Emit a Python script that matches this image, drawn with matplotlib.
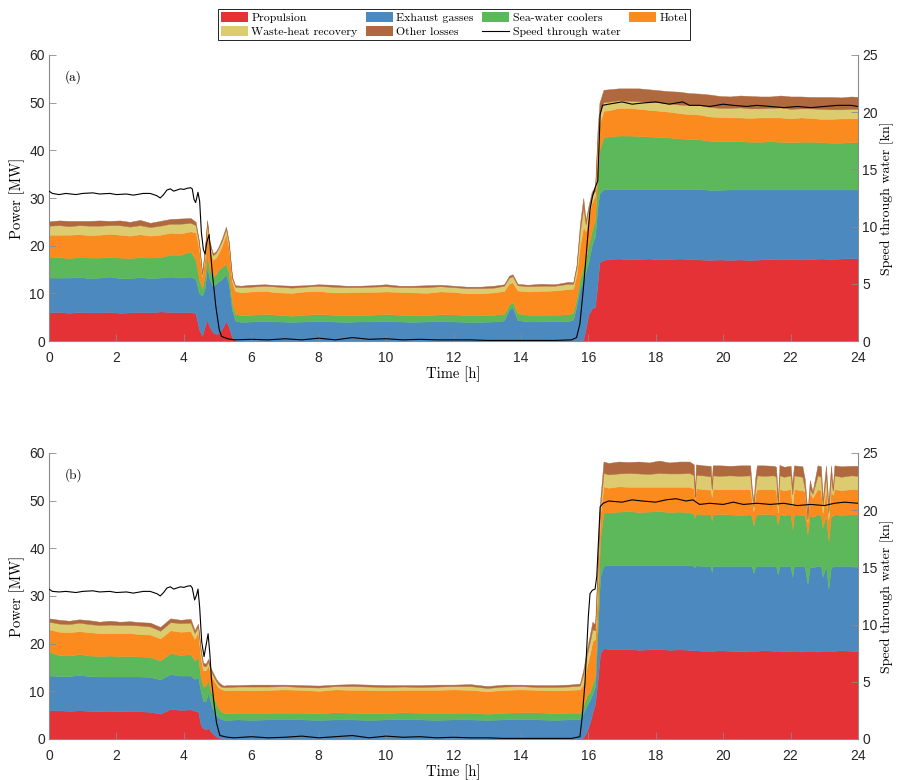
import numpy as np
import matplotlib
matplotlib.use('Agg')
import matplotlib.pyplot as plt
from matplotlib.patches import Patch
from matplotlib.lines import Line2D

# ---------------- labels / colours ----------------
series_labels = ['Propulsion', 'Exhaust gasses', 'Sea-water coolers', 'Hotel',
                 'Waste-heat recovery', 'Other losses']
speed_label = 'Speed through water'
colors = ['#E53236', '#4B89BF', '#5CB85B', '#FB8B1E', '#DCCB6F', '#B0693F']

# ---------------- panel (a) ----------------
t_a = [0, 0.3, 0.6, 0.9, 1.2, 1.5, 1.8, 2.1, 2.4, 2.7, 3.0, 3.3, 3.6, 3.9, 4.2,
       4.35, 4.45, 4.54, 4.62, 4.69, 4.76, 4.86, 4.95, 5.03, 5.13, 5.25, 5.33, 5.43, 5.52,
       5.7, 6.0, 6.4, 6.8, 7.2, 7.6, 8.0, 8.4, 8.8, 9.2, 9.6, 10.0, 10.4, 10.8, 11.2, 11.6,
       12.0, 12.4, 12.8, 13.2, 13.5, 13.65, 13.75, 13.9, 14.2, 14.6, 15.0, 15.4,
       15.55, 15.65, 15.75, 15.85, 15.92, 16.0, 16.1, 16.2, 16.27, 16.33, 16.45,
       16.6, 16.9, 17.2, 17.5, 17.8, 18.1, 18.4, 18.7, 19.0, 19.3, 19.6, 19.9, 20.2, 20.5,
       20.8, 21.1, 21.4, 21.7, 22.0, 22.3, 22.6, 22.9, 23.2, 23.5, 23.8, 24.0]

prop_a = [6.0, 6.1, 5.9, 6.1, 6.0, 6.0, 6.1, 5.9, 6.0, 6.1, 6.0, 6.2, 6.1, 6.0, 6.1,
          5.8, 2.5, 1.0, 3.0, 4.5, 3.0, 1.8, 1.5, 1.6, 2.5, 4.2, 3.0, 0.8, 0.2,
          0.1, 0.1, 0.1, 0.1, 0.1, 0.1, 0.1, 0.1, 0.1, 0.1, 0.1, 0.1, 0.1, 0.1, 0.1, 0.1,
          0.1, 0.1, 0.1, 0.1, 0.1, 0.1, 0.1, 0.1, 0.1, 0.1, 0.1, 0.1,
          0.1, 0.1, 0.1, 0.3, 2.5, 5.5, 6.8, 7.2, 12.0, 16.5, 17.0,
          17.2, 17.3, 17.1, 17.2, 17.3, 17.1, 17.2, 17.3, 17.2, 17.1, 17.0, 17.1, 17.0, 17.1,
          17.0, 17.1, 17.2, 17.1, 17.2, 17.1, 17.2, 17.3, 17.2, 17.3, 17.4, 17.3]
exh_a = [7.3, 7.2, 7.4, 7.3, 7.2, 7.3, 7.4, 7.3, 7.2, 7.3, 7.2, 7.1, 7.4, 7.3, 7.4,
         7.2, 7.5, 8.5, 8.0, 11.0, 10.0, 9.7, 10.5, 10.9, 10.5, 9.8, 9.0, 5.7, 4.1,
         3.9, 4.0, 4.1, 4.0, 3.9, 4.0, 4.1, 4.0, 3.9, 4.0, 4.0, 4.1, 4.0, 3.9, 4.0, 4.1,
         4.0, 3.9, 3.9, 4.0, 4.2, 6.5, 7.0, 4.3, 4.0, 4.0, 4.1, 4.1,
         4.4, 7.4, 10.9, 12.7, 12.0, 11.0, 13.2, 14.8, 16.0, 14.5, 14.8,
         14.7, 14.6, 14.8, 14.7, 14.6, 14.8, 14.7, 14.6, 14.7, 14.8, 14.7, 14.6, 14.8, 14.7,
         14.8, 14.7, 14.6, 14.7, 14.6, 14.7, 14.6, 14.5, 14.6, 14.5, 14.4, 14.5]
sea_a = [4.2, 4.3, 4.1, 4.2, 4.3, 4.2, 4.1, 4.3, 4.2, 4.2, 4.3, 4.3, 4.6, 4.8, 5.3,
         4.0, 3.0, 1.5, 2.5, 2.5, 2.0, 2.0, 2.0, 2.5, 2.5, 2.2, 2.5, 1.5, 1.4,
         1.4, 1.4, 1.5, 1.4, 1.3, 1.4, 1.5, 1.4, 1.4, 1.3, 1.4, 1.5, 1.4, 1.4, 1.3, 1.4,
         1.5, 1.4, 1.4, 1.4, 1.4, 1.0, 1.2, 1.4, 1.4, 1.4, 1.3, 1.4,
         1.5, 1.5, 2.0, 2.5, 2.5, 3.5, 3.0, 3.5, 7.0, 9.0, 11.0,
         11.0, 11.2, 11.2, 11.1, 11.0, 10.9, 10.8, 10.6, 10.5, 10.4, 10.3, 10.2, 10.1, 10.1,
         10.0, 10.0, 10.1, 10.0, 9.9, 10.0, 10.0, 9.9, 9.8, 9.8, 9.9, 9.9]
hotel_a = [4.8, 4.7, 4.9, 4.8, 4.7, 4.8, 4.9, 4.8, 4.7, 4.8, 4.6, 4.7, 4.6, 4.5, 4.2,
           5.8, 6.5, 2.5, 4.0, 5.5, 4.5, 3.5, 3.5, 3.5, 4.5, 6.3, 5.3, 4.5, 4.8,
           4.8, 4.9, 4.8, 4.7, 4.8, 4.9, 4.8, 4.7, 4.8, 4.9, 4.8, 4.7, 4.8, 4.8, 4.7, 4.8,
           4.7, 4.6, 4.6, 4.7, 4.8, 4.5, 4.0, 4.8, 4.9, 5.0, 5.1, 5.3,
           5.0, 5.0, 7.0, 8.5, 6.0, 6.0, 6.0, 5.0, 5.0, 5.5, 5.5,
           5.5, 5.8, 5.8, 5.7, 5.6, 5.5, 5.4, 5.3, 5.2, 5.2, 5.1, 5.1, 5.0, 5.0,
           5.0, 5.1, 5.0, 5.1, 5.0, 5.1, 5.0, 4.9, 5.0, 5.1, 5.0, 5.0]
whr_a = [1.9, 2.0, 1.8, 1.9, 2.0, 1.9, 1.8, 2.0, 1.9, 1.9, 1.8, 1.9, 1.9, 2.0, 1.8,
         1.5, 1.0, 0.5, 1.0, 1.3, 1.0, 1.0, 1.0, 1.0, 1.0, 1.0, 0.8, 0.7, 0.9,
         1.1, 1.0, 1.1, 1.2, 1.1, 1.0, 1.1, 1.2, 1.1, 1.0, 1.1, 1.1, 1.0, 1.1, 1.2, 1.1,
         1.0, 1.1, 1.1, 1.0, 1.1, 1.2, 1.3, 1.1, 1.1, 1.1, 1.0, 1.1,
         1.0, 1.5, 3.0, 4.0, 1.5, 1.5, 1.5, 1.0, 2.0, 2.0, 1.8,
         1.8, 1.6, 1.5, 1.6, 1.7, 1.8, 1.7, 1.8, 1.9, 2.0, 2.0, 1.9, 2.0, 2.1,
         2.0, 1.9, 2.0, 2.1, 2.0, 1.9, 2.0, 2.1, 2.0, 1.9, 2.0, 2.0]
other_a = [0.9, 1.0, 1.1, 0.9, 1.0, 1.1, 0.9, 1.0, 1.0, 1.1, 0.9, 1.0, 1.0, 1.1, 1.0,
           0.7, 0.5, 0.3, 0.5, 0.6, 0.5, 0.4, 0.3, 0.3, 0.5, 0.5, 0.4, 0.3, 0.3,
           0.3, 0.4, 0.3, 0.3, 0.4, 0.3, 0.3, 0.4, 0.3, 0.3, 0.3, 0.4, 0.3, 0.3, 0.4, 0.3,
           0.3, 0.3, 0.3, 0.4, 0.3, 0.4, 0.4, 0.3, 0.3, 0.4, 0.3, 0.4,
           0.3, 0.5, 1.5, 2.0, 0.8, 0.7, 0.8, 0.8, 2.0, 2.5, 2.6,
           2.6, 2.5, 2.6, 2.7, 2.6, 2.5, 2.6, 2.7, 2.5, 2.4, 2.6, 2.5, 2.4, 2.5,
           2.6, 2.5, 2.4, 2.5, 2.6, 2.5, 2.4, 2.5, 2.6, 2.5, 2.6, 2.5]

ts_a = [0.0, 0.1, 0.3, 0.5, 0.8, 1.0, 1.3, 1.5, 1.8, 2.0, 2.3, 2.5, 2.8, 3.0, 3.2, 3.3,
        3.4, 3.5, 3.6, 3.7, 3.9, 4.0, 4.1, 4.2, 4.25, 4.3, 4.35, 4.42, 4.47, 4.52, 4.58,
        4.63, 4.68, 4.75, 4.8, 4.85, 4.95, 5.05, 5.12, 5.3, 5.5, 6.0, 6.5, 7.0, 7.5, 8.0,
        8.5, 9.0, 9.5, 10.0, 10.5, 11.0, 11.5, 12.0, 12.5, 13.0, 13.5, 14.0, 14.5, 15.0,
        15.5, 15.65, 15.75, 15.85, 15.95, 16.05, 16.12, 16.2, 16.28, 16.35, 16.42, 16.6,
        17.0, 17.3, 17.6, 18.0, 18.4, 18.8, 19.0, 19.3, 19.6, 20.0, 20.3, 20.7, 21.0,
        21.4, 21.8, 22.2, 22.6, 23.0, 23.4, 23.8, 24.0]
speed_a = [13.1, 12.9, 12.8, 12.9, 12.8, 12.9, 12.95, 12.85, 12.9, 12.8, 12.85, 12.75,
           12.9, 12.9, 12.7, 12.5, 12.8, 13.2, 13.3, 13.1, 13.3, 13.25, 13.35, 13.4, 13.3,
           12.4, 12.1, 13.0, 12.2, 9.5, 8.0, 7.6, 8.6, 9.3, 7.5, 5.8, 3.0, 1.0, 0.4, 0.2,
           0.1, 0.15, 0.1, 0.2, 0.1, 0.25, 0.1, 0.3, 0.15, 0.2, 0.1, 0.15, 0.1, 0.1, 0.1,
           0.05, 0.05, 0.05, 0.05, 0.05, 0.1, 0.3, 1.5, 4.5, 8.0, 11.5, 12.6, 13.4, 14.0,
           19.8, 20.6, 20.7, 20.9, 20.7, 20.8, 20.9, 20.7, 20.9, 20.6, 20.6, 20.5, 20.7,
           20.6, 20.5, 20.6, 20.5, 20.4, 20.5, 20.4, 20.5, 20.6, 20.6, 20.5]

# ---------------- panel (b) ----------------
t_b = [0, 0.3, 0.6, 0.9, 1.2, 1.5, 1.8, 2.1, 2.4, 2.7, 3.0, 3.3, 3.6, 3.9, 4.2,
       4.32, 4.42, 4.5, 4.57, 4.65, 4.72, 4.8, 4.87, 4.95, 5.02, 5.1, 5.18,
       5.3, 5.6, 6.0, 6.5, 7.0, 7.5, 8.0, 8.5, 9.0, 9.5, 10.0, 10.5, 11.0, 11.5, 12.0,
       12.5, 13.0, 13.5, 14.0, 14.5, 15.0, 15.4, 15.75,
       15.85, 15.95, 16.05, 16.12, 16.2, 16.27, 16.35, 16.45,
       16.6, 16.9, 17.2, 17.5, 17.8, 18.1, 18.4, 18.7, 19.0, 19.13,
       19.16, 19.19, 19.4, 19.63, 19.66, 19.69, 19.9, 20.2, 20.5, 20.8,
       20.85, 20.9, 20.95, 21.0, 21.2, 21.5, 21.57, 21.62, 21.67, 21.8,
       22.0, 22.05, 22.1, 22.35, 22.42, 22.5, 22.57, 22.65, 22.8, 22.9,
       22.95, 23.05, 23.12, 23.2, 23.25, 23.3, 23.5, 23.8, 24.0]

prop_b = [6.0, 6.0, 5.9, 6.0, 5.9, 5.8, 5.9, 5.8, 5.9, 5.8, 5.7, 5.3, 6.3, 6.1, 6.2,
          5.9, 5.8, 3.0, 2.3, 2.0, 2.3, 1.6, 1.0, 0.6, 0.3, 0.2, 0.1,
          0.1, 0.1, 0.1, 0.1, 0.1, 0.1, 0.1, 0.1, 0.1, 0.1, 0.1, 0.1, 0.1, 0.1, 0.1,
          0.1, 0.1, 0.1, 0.1, 0.1, 0.1, 0.1, 0.1,
          0.3, 1.5, 3.5, 5.5, 7.5, 12.0, 18.0, 19.0,
          18.9, 18.8, 18.9, 18.7, 18.8, 18.9, 18.7, 18.8, 18.7, 18.6,
          18.6, 18.6, 18.5, 18.5, 18.5, 18.5, 18.6, 18.5, 18.4, 18.5,
          18.5, 18.5, 18.5, 18.5, 18.6, 18.5, 18.5, 18.5, 18.5, 18.4,
          18.5, 18.5, 18.5, 18.4, 18.5, 18.5, 18.5, 18.5, 18.4, 18.5,
          18.5, 18.5, 18.5, 18.5, 18.5, 18.5, 18.6, 18.5, 18.4]
exh_b = [7.3, 7.2, 7.3, 7.4, 7.3, 7.3, 7.2, 7.3, 7.2, 7.3, 7.3, 7.2, 7.3, 7.2, 7.1,
         6.7, 7.2, 7.0, 5.7, 6.0, 7.3, 5.9, 5.1, 4.6, 4.3, 4.0, 3.9,
         3.9, 4.0, 3.9, 4.0, 4.1, 4.0, 3.9, 4.0, 4.0, 3.9, 4.0, 4.1, 4.0, 3.9, 4.0,
         4.0, 3.9, 4.0, 4.1, 4.0, 3.9, 4.0, 4.0,
         5.2, 5.5, 4.7, 4.0, 3.5, 10.0, 16.0, 17.3,
         17.6, 17.7, 17.6, 17.8, 17.7, 17.6, 17.8, 17.7, 17.8, 17.7,
         17.3, 17.8, 17.8, 17.7, 16.5, 17.8, 17.7, 17.8, 17.9, 17.8,
         17.6, 16.3, 17.6, 17.8, 17.7, 17.8, 17.7, 16.0, 17.8, 17.9,
         17.8, 15.5, 17.8, 17.9, 17.6, 14.0, 17.6, 17.5, 17.9, 17.8,
         15.5, 17.8, 13.0, 17.8, 17.6, 17.8, 17.7, 17.8, 17.9]
sea_b = [5.0, 4.4, 4.3, 4.4, 4.3, 4.3, 4.4, 4.3, 4.3, 4.2, 4.2, 4.0, 4.4, 4.3, 4.5,
         3.9, 4.2, 3.0, 3.0, 3.3, 2.7, 2.5, 2.9, 2.3, 1.9, 1.6, 1.5,
         1.4, 1.4, 1.5, 1.4, 1.3, 1.4, 1.4, 1.5, 1.4, 1.4, 1.3, 1.4, 1.4, 1.5, 1.4,
         1.4, 1.3, 1.4, 1.4, 1.5, 1.4, 1.4, 1.4,
         1.5, 2.0, 1.8, 2.0, 2.0, 4.0, 8.0, 11.2,
         11.0, 11.2, 11.3, 11.1, 11.2, 11.3, 11.1, 11.2, 11.0, 10.9,
         10.5, 10.9, 10.8, 10.9, 10.8, 10.8, 10.9, 10.8, 10.7, 10.8,
         10.5, 10.0, 10.6, 10.8, 10.9, 10.8, 10.8, 10.5, 10.8, 10.7,
         10.8, 10.0, 10.8, 10.7, 10.8, 10.5, 10.8, 10.6, 10.8, 10.7,
         10.4, 10.8, 10.0, 10.8, 10.6, 10.8, 10.7, 10.8, 10.8]
hotel_b = [4.7, 4.9, 4.9, 4.8, 4.9, 4.8, 4.7, 4.8, 4.8, 4.7, 4.7, 4.6, 4.8, 4.9, 4.8,
           4.5, 5.3, 4.0, 3.4, 3.1, 3.1, 3.5, 3.6, 4.1, 4.4, 4.7, 4.8,
           4.8, 4.8, 4.7, 4.8, 4.9, 4.8, 4.7, 4.8, 4.8, 4.9, 4.8, 4.7, 4.8, 4.8, 4.9,
           4.8, 4.7, 4.8, 4.8, 4.7, 4.8, 4.8, 4.9,
           4.5, 6.0, 8.0, 9.0, 8.0, 6.0, 5.0, 5.5,
           5.2, 5.3, 5.1, 5.3, 5.2, 5.1, 5.3, 5.2, 5.4, 5.3,
           4.0, 5.3, 5.3, 5.2, 5.0, 5.3, 5.2, 5.3, 5.4, 5.3,
           3.5, 3.0, 4.5, 5.3, 5.2, 5.3, 5.2, 2.5, 5.3, 5.2,
           5.3, 4.8, 5.3, 5.2, 5.0, 2.5, 5.0, 4.0, 5.3, 5.2,
           3.0, 5.3, 4.5, 5.3, 4.5, 5.3, 5.2, 5.3, 5.3]
whr_b = [1.6, 1.7, 1.7, 1.8, 1.7, 1.7, 1.8, 1.7, 1.7, 1.8, 1.7, 1.6, 1.7, 1.8, 1.8,
         1.2, 1.1, 1.3, 1.0, 0.8, 0.8, 0.7, 0.7, 0.6, 0.6, 0.5, 0.6,
         0.7, 0.7, 0.8, 0.7, 0.7, 0.6, 0.7, 0.7, 0.8, 0.7, 0.7, 0.7, 0.6, 0.7, 0.7,
         0.8, 0.7, 0.7, 0.7, 0.6, 0.7, 0.7, 0.8,
         2.0, 2.5, 2.5, 2.5, 1.8, 2.0, 1.5, 2.8,
         2.8, 2.7, 2.9, 2.8, 2.7, 2.9, 2.8, 2.8, 2.9, 2.8,
         0.3, 2.8, 2.9, 2.8, 1.5, 2.9, 2.8, 2.9, 2.8, 2.9,
         1.5, 0.8, 1.5, 2.9, 2.8, 2.9, 2.8, 1.5, 2.9, 2.8,
         2.9, 2.5, 2.9, 2.8, 0.6, 0.5, 0.6, 0.8, 2.9, 2.8,
         1.5, 2.9, 1.4, 2.8, 0.8, 2.9, 2.8, 2.9, 2.8]
other_b = [0.7, 0.8, 0.7, 0.7, 0.8, 0.7, 0.8, 0.7, 0.8, 0.7, 0.8, 0.8, 0.8, 0.7, 0.8,
           0.6, 0.6, 0.7, 0.6, 0.6, 0.6, 0.6, 0.5, 0.5, 0.5, 0.5, 0.3,
           0.4, 0.3, 0.4, 0.4, 0.3, 0.4, 0.4, 0.3, 0.4, 0.4, 0.4, 0.3, 0.4, 0.4, 0.3,
           0.4, 0.4, 0.4, 0.3, 0.4, 0.4, 0.4, 0.4,
           1.0, 1.0, 1.5, 1.6, 1.2, 2.0, 1.5, 2.4,
           2.4, 2.5, 2.3, 2.5, 2.4, 2.6, 2.3, 2.5, 2.4, 2.3,
           0.2, 2.2, 2.1, 2.2, 1.0, 2.1, 2.2, 2.0, 2.2, 2.1,
           1.0, 1.2, 2.0, 2.1, 2.2, 2.0, 2.1, 1.0, 2.2, 2.1,
           2.0, 2.0, 2.1, 2.2, 2.0, 1.5, 1.8, 0.5, 2.1, 2.2,
           1.2, 2.1, 2.0, 2.2, 0.5, 2.1, 2.2, 2.0, 2.1]

ts_b = [0.0, 0.1, 0.3, 0.5, 0.8, 1.0, 1.3, 1.5, 1.8, 2.0, 2.3, 2.5, 2.8, 3.0, 3.2, 3.3,
        3.4, 3.5, 3.6, 3.7, 3.9, 4.0, 4.1, 4.2, 4.25, 4.32, 4.38, 4.42, 4.47, 4.53, 4.6,
        4.66, 4.72, 4.77, 4.82, 4.9, 4.97, 5.07, 5.3, 5.5, 6.0, 6.5, 7.0, 7.5, 8.0, 8.5,
        9.0, 9.5, 10.0, 10.5, 11.0, 11.5, 12.0, 12.5, 13.0, 13.5, 14.0, 14.5, 15.0, 15.5,
        15.75, 15.82, 15.9, 16.0, 16.05, 16.12, 16.2, 16.25, 16.35, 16.44, 16.6, 17.0,
        17.3, 17.6, 18.0, 18.3, 18.6, 18.9, 19.1, 19.3, 19.6, 20.0, 20.3, 20.6, 21.0,
        21.4, 21.8, 22.2, 22.6, 23.0, 23.3, 23.6, 24.0]
speed_b = [13.1, 12.9, 12.85, 12.9, 12.8, 12.9, 12.95, 12.85, 12.9, 12.8, 12.85, 12.75,
           12.9, 12.9, 12.7, 12.5, 12.8, 13.2, 13.3, 13.1, 13.3, 13.25, 13.35, 13.4, 13.2,
           12.15, 12.6, 13.1, 11.5, 8.5, 7.2, 8.2, 9.2, 7.5, 5.2, 3.0, 1.4, 0.3, 0.15, 0.1,
           0.2, 0.1, 0.15, 0.25, 0.1, 0.2, 0.3, 0.1, 0.25, 0.15, 0.2, 0.1, 0.15, 0.1, 0.1,
           0.05, 0.05, 0.05, 0.05, 0.05, 0.2, 2.0, 4.9, 10.7, 12.7, 13.0, 13.1, 14.2, 20.3,
           20.6, 20.8, 20.7, 20.9, 20.8, 20.7, 20.9, 21.0, 20.8, 20.9, 20.5, 20.6, 20.5,
           20.7, 20.5, 20.6, 20.5, 20.6, 20.4, 20.5, 20.4, 20.6, 20.7, 20.6]

# ---------------- drawing ----------------
plt.rcParams['font.family'] = ['Liberation Sans', 'DejaVu Sans']
SERIF = ['cmr10', 'DejaVu Serif']
GREY = '#8a8a8a'

fig = plt.figure(figsize=(8.99, 7.80), dpi=100)
ax_a = fig.add_axes([0.0545, 0.5628, 0.8999, 0.3667])
ax_b = fig.add_axes([0.0545, 0.0526, 0.8999, 0.3667])


def draw(ax, t, comps, ts, sp, tag):
    polys = ax.stackplot(t, *comps, colors=colors, linewidth=0)
    for p, c in zip(polys, colors):
        p.set_edgecolor(c)
        p.set_linewidth(0.3)
    ax.set_xlim(0, 24)
    ax.set_ylim(0, 60)
    ax.set_xticks(range(0, 25, 2))
    ax.set_yticks(range(0, 61, 10))
    ax2 = ax.twinx()
    ax2.plot(ts, sp, color='k', lw=0.8)
    ax2.set_ylim(0, 25)
    ax2.set_yticks(range(0, 26, 5))
    for a in (ax, ax2):
        a.spines['top'].set_visible(False)
        for s in a.spines.values():
            s.set_color(GREY)
            s.set_linewidth(0.8)
        a.tick_params(direction='in', length=5, width=0.6, color=GREY,
                      labelsize=10, labelcolor='#262626', pad=3)
    ax.tick_params(axis='x', pad=7)
    ax.spines['right'].set_visible(False)
    ax2.spines['left'].set_visible(False)
    ax2.spines['bottom'].set_visible(False)
    ax.set_xlabel('Time [h]', fontfamily=SERIF, fontsize=10.5, labelpad=1)
    ax.set_ylabel('Power [MW]', fontfamily=SERIF, fontsize=10.5, labelpad=3)
    ax2.set_ylabel('Speed through water [kn]', fontfamily=SERIF, fontsize=10,
                   labelpad=2)
    ax.text(0.47, 55.3, tag, fontfamily=SERIF, fontsize=9.5, ha='left', va='center')


draw(ax_a, t_a, [prop_a, exh_a, sea_a, hotel_a, whr_a, other_a], ts_a, speed_a, '(a)')
draw(ax_b, t_b, [prop_b, exh_b, sea_b, hotel_b, whr_b, other_b], ts_b, speed_b, '(b)')

# legend (column-wise order for ncol=4)
patches = [Patch(facecolor=c, edgecolor='none') for c in colors]
line = Line2D([0], [0], color='k', lw=0.8)
handles = [patches[0], patches[4], patches[1], patches[5], patches[2], line, patches[3]]
labels = [series_labels[0], series_labels[4], series_labels[1], series_labels[5],
          series_labels[2], speed_label, series_labels[3]]
leg = fig.legend(handles, labels, loc='center', bbox_to_anchor=(0.505, 0.9686), ncol=4,
                 prop={'family': SERIF, 'size': 8.5}, frameon=True, fancybox=False,
                 edgecolor='k', framealpha=1, handlelength=2.3, handleheight=0.95,
                 columnspacing=0.7, borderpad=0.25, labelspacing=0.3, handletextpad=0.3,
                 borderaxespad=0)
leg.get_frame().set_linewidth(0.6)

fig.savefig('out.png', dpi=100)
